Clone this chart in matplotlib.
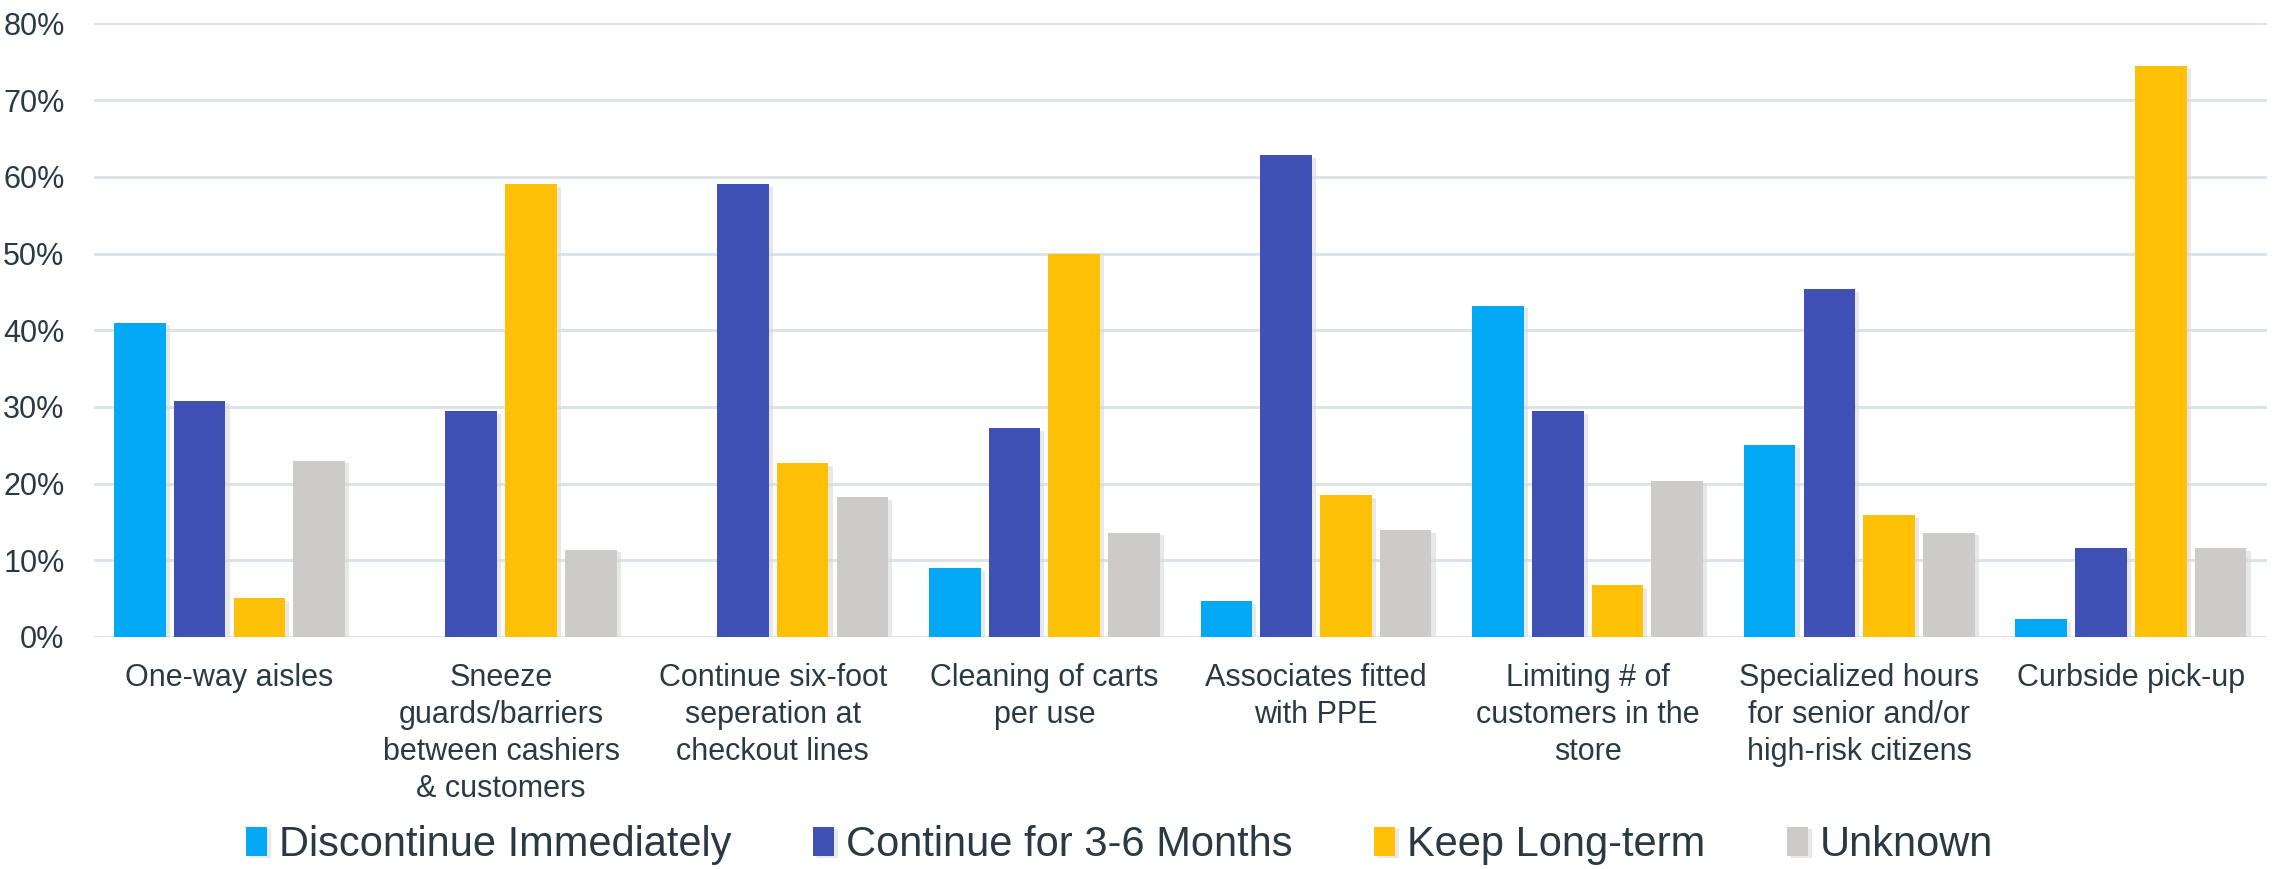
"""Grouped bar chart: what to do with in-store COVID measures."""

import matplotlib

matplotlib.use("Agg")
import matplotlib.patheffects as pe
import matplotlib.pyplot as plt
import numpy as np
from matplotlib.ticker import PercentFormatter

matplotlib.rcParams["font.family"] = ["Liberation Sans", "DejaVu Sans"]

categories = [
    "One-way aisles",
    "Sneeze\nguards/barriers\nbetween cashiers\n& customers",
    "Continue six-foot\nseperation at\ncheckout lines",
    "Cleaning of carts\nper use",
    "Associates fitted\nwith PPE",
    "Limiting # of\ncustomers in the\nstore",
    "Specialized hours\nfor senior and/or\nhigh-risk citizens",
    "Curbside pick-up",
]
series_names = [
    "Discontinue Immediately",
    "Continue for 3-6 Months",
    "Keep Long-term",
    "Unknown",
]
discontinue = [41.0, 0.0, 0.0, 9.0, 4.7, 43.2, 25.0, 2.3]
continue_3_6 = [30.8, 29.5, 59.1, 27.2, 62.8, 29.5, 45.4, 11.6]
keep_long = [5.1, 59.1, 22.7, 50.0, 18.5, 6.8, 15.9, 74.4]
unknown = [23.0, 11.4, 18.2, 13.6, 13.9, 20.4, 13.6, 11.6]
colors = ["#03A9F4", "#3F51B5", "#FFC107", "#CCCBCA"]

TEXT = "#2B3A42"
GRID = "#DCE4E7"

fig = plt.figure(figsize=(22.85, 8.69), dpi=100)
ax = fig.add_axes([0.041, 0.267, 0.951, 0.706])

x = np.arange(len(categories))
pitch = 0.22
width = 0.19
# soft grey drop shadow like the original office chart
shadow = [pe.SimplePatchShadow(offset=(3, -2), shadow_rgbFace="#d9d9d9", alpha=0.6), pe.Normal()]
for i, (vals, name, col) in enumerate(
    zip([discontinue, continue_3_6, keep_long, unknown], series_names, colors)
):
    heights = [v / 100 for v in vals]
    bars = ax.bar(x + (i - 1.5) * pitch, heights, width, color=col, label=name, zorder=3)
    for b, h in zip(bars, heights):
        if h > 0:
            b.set_path_effects(shadow)

ax.set_xlim(-0.5, len(categories) - 0.5)
ax.set_ylim(0, 0.8)
ax.set_yticks(np.arange(0, 0.81, 0.1))
ax.yaxis.set_major_formatter(PercentFormatter(1.0, decimals=0))
ax.set_xticks(x)
ax.set_xticklabels(categories, linespacing=1.3)
ax.tick_params(axis="both", length=0, labelsize=22, colors=TEXT)
ax.tick_params(axis="x", pad=19)
ax.tick_params(axis="y", pad=21)
ax.grid(axis="y", color=GRID, linewidth=2.2, zorder=0)
for s in ax.spines.values():
    s.set_visible(False)

fig.legend(
    loc="center",
    bbox_to_anchor=(0.49, 0.028),
    ncol=4,
    frameon=False,
    fontsize=30,
    labelcolor=TEXT,
    handlelength=0.5,
    handleheight=0.7,
    handletextpad=0.3,
    columnspacing=1.95,
)

fig.savefig("out.png", dpi=100)
